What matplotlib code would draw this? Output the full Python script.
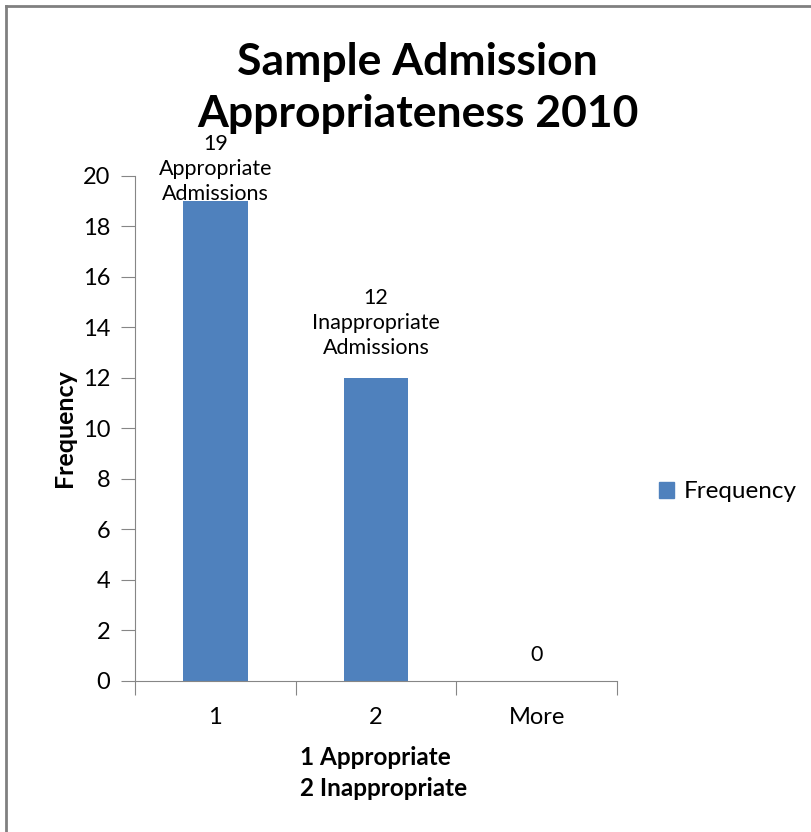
import numpy as np
import matplotlib.pyplot as plt
from matplotlib.lines import Line2D
from matplotlib.patches import Patch

plt.rcParams['font.family'] = ['Lato', 'DejaVu Sans']

categories = ['1', '2', 'More']
frequency = [19, 12, 0]
bar_notes = ['Appropriate\nAdmissions', 'Inappropriate\nAdmissions', '']

fig = plt.figure(figsize=(8.11, 8.32), dpi=100)
ax = fig.add_axes([0.1665, 0.1815, 0.5945, 0.607])

x = np.arange(len(categories))
ax.bar(x, frequency, width=0.4, color='#4F81BD')

ax.set_xlim(-0.5, len(categories) - 0.5)
ax.set_ylim(0, 20)
ax.set_yticks(range(0, 21, 2))
ax.tick_params(axis='y', labelsize=17, length=10, color='#868686', pad=8)

# ticks sit between categories, labels sit under the bars
ax.set_xticks(np.arange(-0.5, len(categories), 1))
ax.set_xticklabels([])
ax.set_xticks(x, minor=True)
ax.set_xticklabels(categories, minor=True, fontsize=17)
ax.tick_params(axis='x', which='major', length=10, color='#868686')
ax.tick_params(axis='x', which='minor', length=0, pad=19)

for side in ['top', 'right']:
    ax.spines[side].set_visible(False)
for side in ['left', 'bottom']:
    ax.spines[side].set_color('#868686')

# value labels above each bar
offsets = [32, 55, 26]
for xi, v, note, off in zip(x, frequency, bar_notes, offsets):
    txt = f'{v}\n{note}' if note else f'{v}'
    ax.annotate(txt, (xi, v), xytext=(0, off), textcoords='offset pixels',
                ha='center', va='center', fontsize=15.5, linespacing=1.3,
                annotation_clip=False)

ax.set_ylabel('Frequency', fontsize=18, fontweight='bold', labelpad=5)
fig.text(0.37, 0.071, '1 Appropriate\n2 Inappropriate', ha='left', va='center',
         fontsize=17.5, fontweight='bold', linespacing=1.4)

fig.suptitle('Sample Admission\nAppropriateness 2010', x=0.515, y=0.894,
             va='center', fontsize=32, fontweight='bold', linespacing=1.38)

ax.legend(handles=[Patch(color='#4F81BD', label='Frequency')],
          loc='center left', bbox_to_anchor=(0.785, 0.409),
          bbox_transform=fig.transFigure, frameon=False, fontsize=17.5,
          handlelength=0.65, handleheight=0.65, handletextpad=0.4)

# frame lines along the left and top edges
fig.add_artist(Line2D([0.0075, 0.0075], [0, 0.993], transform=fig.transFigure,
                      color='#808080', lw=2))
fig.add_artist(Line2D([0.0075, 1], [0.993, 0.993], transform=fig.transFigure,
                      color='#808080', lw=2))

fig.savefig('out.png', dpi=100)
